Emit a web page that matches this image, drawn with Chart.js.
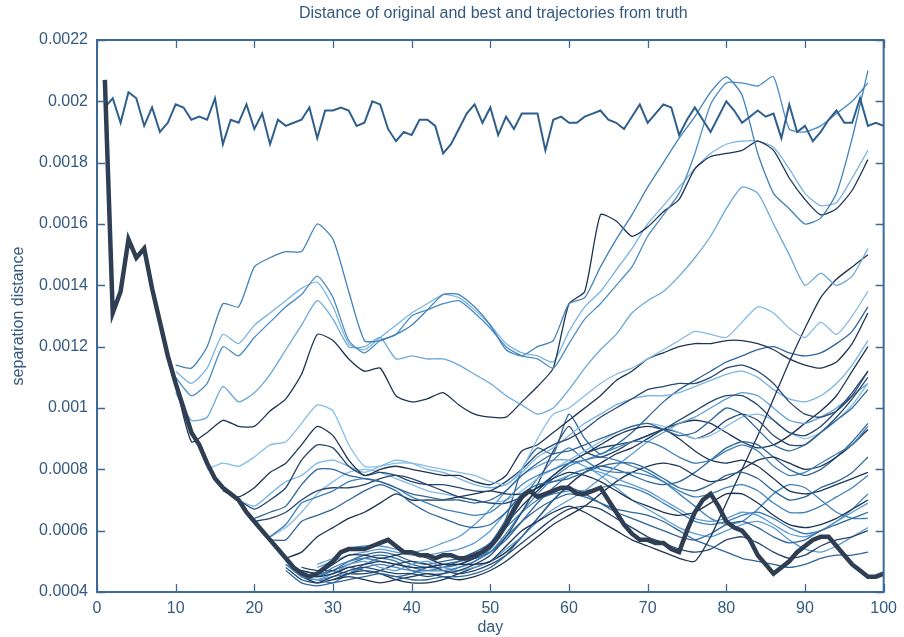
<!DOCTYPE html>
<html>
<head>
<meta charset="utf-8">
<script src="https://cdn.jsdelivr.net/npm/chart.js@4.4.1/dist/chart.umd.min.js"></script>
<style>
  html, body { margin: 0; padding: 0; background: #fff; }
</style>
</head>
<body>
<canvas id="myChart" width="904" height="637"></canvas>
<script>
// tick values
const xTicks = [0, 10, 20, 30, 40, 50, 60, 70, 80, 90, 100];
const yTicks = [0.0004, 0.0006, 0.0008, 0.001, 0.0012, 0.0014, 0.0016, 0.0018, 0.002, 0.0022];

// original trajectory, one value per day (day 1..100)
const originalDist = [.00198,.00201,.00193,.00203,.00201,.00192,.00198,.00190,.00193,.00199,
  .00198,.00194,.00195,.00194,.00201,.00186,.00194,.00193,.00199,.00191,
  .00196,.00186,.00194,.00192,.00193,.00194,.00198,.00188,.00197,.00197,
  .00198,.00197,.00192,.00193,.00200,.00199,.00191,.00187,.00190,.00189,
  .00194,.00194,.00192,.00183,.00186,.00191,.00196,.00199,.00193,.00198,
  .00189,.00195,.00191,.00196,.00196,.00196,.00184,.00194,.00195,.00193,
  .00193,.00195,.00196,.00197,.00194,.00193,.00191,.00195,.00199,.00193,
  .00196,.00199,.00198,.00189,.00194,.00198,.00194,.00190,.00195,.00200,
  .00197,.00193,.00195,.00197,.00195,.00196,.00188,.00199,.00190,.00192,
  .00187,.00190,.00194,.00197,.00193,.00193,.00201,.00192,.00193,.00192];

// best trajectory, one value per day (day 1..100)
const bestDist = [.00207,.00131,.00138,.00155,.00149,.00152,.00139,.00128,.00117,.00108,
  .00100,.00092,.00088,.00082,.00077,.00074,.00072,.00070,.00066,.00063,
  .00060,.00057,.00054,.00051,.00048,.00046,.00045,.00046,.00048,.00050,
  .00053,.00054,.00054,.00054,.00055,.00056,.00057,.00055,.00053,.00053,
  .00052,.00052,.00051,.00052,.00052,.00051,.00051,.00052,.00053,.00055,
  .00058,.00062,.00067,.00071,.00073,.00071,.00072,.00073,.00074,.00074,
  .00072,.00072,.00073,.00074,.00070,.00066,.00062,.00059,.00057,.00057,
  .00056,.00056,.00054,.00053,.00060,.00066,.00070,.00072,.00068,.00063,
  .00061,.00060,.00057,.00052,.00049,.00046,.00048,.00050,.00053,.00055,
  .00057,.00058,.00058,.00055,.00052,.00049,.00047,.00045,.00045,.00046];

// ensemble trajectories, every 2 days, each list ends on day 98
const trajDays = [10,12,14,16,18,20,22,24,26,28,30,32,34,36,38,40,42,44,46,48,50,52,54,56,58,60,62,64,66,68,70,72,74,76,78,80,82,84,86,88,90,92,94,96,98];

const trajU1 = [.00114,.00113,.00120,.00134,.00133,.00146,.00149,.00151,.00151,.00160,.00155,.00138,.00122,.00122,.00124,.00127,.00132,.00137,.00137,.00133,.00127,.00119,.00117,.00120,.00122,.00134,.00136,.00146,.00155,.00163,.00172,.00180,.00188,.00195,.00203,.00208,.00202,.00183,.00170,.00165,.00160,.00162,.00170,.00188,.00210];
const trajU2 = [.00110,.00104,.00108,.00120,.00117,.00123,.00128,.00133,.00137,.00143,.00136,.00122,.00118,.00122,.00124,.00130,.00132,.00134,.00135,.00131,.00126,.00120,.00117,.00116,.00113,.00121,.00129,.00134,.00140,.00146,.00156,.00163,.00170,.00183,.00199,.00206,.00206,.00205,.00208,.00191,.00190,.00192,.00196,.00200,.00206];
const trajU3 = [.00105,.00096,.00097,.00107,.00102,.00105,.00111,.00119,.00127,.00135,.00129,.00120,.00120,.00123,.00116,.00117,.00116,.00116,.00114,.00111,.00108,.00104,.00101,.00098,.00100,.00106,.00113,.00119,.00124,.00131,.00135,.00138,.00143,.00149,.00156,.00165,.00172,.00170,.00160,.00150,.00140,.00144,.00140,.00143,.00152];
const trajU4 = [.00108,.00089,.00092,.00096,.00094,.00094,.00099,.00103,.00111,.00124,.00122,.00116,.00112,.00113,.00104,.00102,.00103,.00105,.00101,.00098,.00097,.00097,.00102,.00107,.00113,.00134,.00138,.00163,.00161,.00156,.00159,.00164,.00168,.00178,.00182,.00183,.00184,.00187,.00184,.00175,.00168,.00163,.00165,.00171,.00181];
const trajU5 = [.00112,.00108,.00113,.00124,.00121,.00127,.00131,.00135,.00139,.00141,.00133,.00121,.00119,.00123,.00127,.00131,.00134,.00137,.00136,.00132,.00127,.00121,.00118,.00117,.00115,.00125,.00133,.00138,.00145,.00152,.00160,.00166,.00172,.00178,.00183,.00186,.00187,.00187,.00185,.00178,.00170,.00166,.00167,.00175,.00184];

const trajL1 = [.00080,.00082,.00081,.00084,.00088,.00089,.00095,.00101,.00099,.00088,.00081,.00081,.00082,.00082,.00081,.00080,.00079,.00078,.00076,.00075,.00080,.00090,.00098,.00100,.00104,.00108,.00111,.00113,.00116,.00119,.00122,.00125,.00124,.00123,.00128,.00133,.00131,.00126,.00123,.00128,.00124,.00130,.00138];
const trajL2 = [.00073,.00071,.00074,.00079,.00082,.00088,.00094,.00091,.00083,.00078,.00080,.00081,.00080,.00079,.00078,.00078,.00076,.00075,.00078,.00086,.00088,.00092,.00096,.00100,.00104,.00109,.00112,.00116,.00118,.00120,.00121,.00121,.00122,.00122,.00121,.00119,.00116,.00114,.00113,.00115,.00121,.00131];
const trajL3 = [.00070,.00067,.00070,.00074,.00083,.00088,.00087,.00081,.00078,.00079,.00078,.00076,.00075,.00075,.00074,.00073,.00073,.00076,.00080,.00085,.00088,.00090,.00093,.00097,.00100,.00103,.00106,.00107,.00108,.00108,.00110,.00113,.00114,.00112,.00108,.00102,.00098,.00097,.00099,.00104,.00112];
const trajL4 = [.00064,.00066,.00068,.00075,.00080,.00080,.00078,.00077,.00076,.00074,.00072,.00071,.00070,.00070,.00069,.00070,.00073,.00078,.00082,.00085,.00086,.00088,.00090,.00092,.00094,.00095,.00093,.00091,.00092,.00096,.00100,.00098,.00093,.00088,.00086,.00088,.00092,.00096,.00100,.00106];
const trajL5 = [.00058,.00062,.00069,.00071,.00073,.00076,.00077,.00076,.00074,.00071,.00069,.00067,.00066,.00065,.00066,.00070,.00075,.00078,.00080,.00082,.00083,.00085,.00087,.00089,.00089,.00087,.00084,.00082,.00083,.00086,.00088,.00086,.00081,.00078,.00079,.00082,.00085,.00088,.00094];
const trajL6 = [.00057,.00057,.00063,.00065,.00067,.00070,.00073,.00075,.00073,.00069,.00066,.00064,.00062,.00061,.00062,.00066,.00072,.00075,.00076,.00077,.00079,.00081,.00082,.00082,.00080,.00077,.00074,.00073,.00075,.00078,.00079,.00077,.00073,.00070,.00071,.00074,.00076,.00079,.00084];
const trajL7 = [.00051,.00053,.00058,.00061,.00064,.00066,.00069,.00072,.00070,.00070,.00070,.00071,.00072,.00073,.00072,.00072,.00074,.00077,.00079,.00078,.00076,.00073,.00070,.00068,.00066,.00065,.00066,.00069,.00072,.00072,.00069,.00065,.00062,.00061,.00062,.00064,.00067,.00070];
const trajL8 = [.00046,.00045,.00046,.00048,.00049,.00050,.00049,.00048,.00048,.00049,.00049,.00049,.00050,.00055,.00060,.00063,.00066,.00068,.00066,.00063,.00060,.00057,.00055,.00053,.00051,.00050,.00058,.00069,.00080,.00091,.00103,.00115,.00126,.00136,.00142,.00146,.00150];
const trajL9 = [.00070,.00068,.00072,.00076,.00078,.00082,.00083,.00081,.00079,.00081,.00083,.00082,.00080,.00079,.00077,.00075,.00074,.00075,.00079,.00084,.00087,.00091,.00095,.00098,.00101,.00103,.00104,.00104,.00105,.00107,.00109,.00111,.00112,.00110,.00106,.00103,.00102,.00104,.00108,.00114,.00122];
const trajL10 = [.00063,.00064,.00066,.00070,.00073,.00074,.00074,.00075,.00077,.00078,.00077,.00075,.00073,.00071,.00070,.00069,.00069,.00071,.00074,.00078,.00082,.00085,.00087,.00088,.00089,.00091,.00093,.00096,.00099,.00102,.00104,.00104,.00101,.00096,.00092,.00091,.00094,.00099,.00105,.00112];
const trajL11 = [.00058,.00061,.00066,.00072,.00076,.00079,.00080,.00079,.00077,.00075,.00073,.00072,.00071,.00070,.00069,.00070,.00073,.00077,.00080,.00083,.00086,.00089,.00092,.00094,.00095,.00094,.00092,.00090,.00091,.00094,.00097,.00098,.00096,.00092,.00090,.00092,.00096,.00101,.00108];

const trajB1 = [.00048,.00044,.00043,.00045,.00047,.00048,.00047,.00046,.00046,.00045,.00046,.00047,.00049,.00052,.00058,.00066,.00075,.00086,.00094,.00086,.00084,.00086,.00089,.00091,.00093,.00092,.00090,.00092,.00096,.00098,.00096,.00091,.00088,.00088,.00092,.00097,.00103,.00110];
const trajB2 = [.00049,.00046,.00045,.00048,.00050,.00051,.00050,.00049,.00048,.00047,.00047,.00048,.00050,.00054,.00061,.00070,.00077,.00083,.00087,.00083,.00080,.00079,.00079,.00078,.00076,.00073,.00071,.00072,.00074,.00075,.00073,.00069,.00066,.00066,.00068,.00071,.00074,.00078];
const trajB3 = [.00047,.00043,.00042,.00043,.00044,.00045,.00046,.00045,.00044,.00044,.00045,.00045,.00046,.00048,.00052,.00058,.00064,.00070,.00074,.00072,.00069,.00066,.00064,.00062,.00060,.00058,.00057,.00059,.00062,.00063,.00061,.00058,.00056,.00057,.00060,.00062,.00064,.00066];
const trajB4 = [.00047,.00046,.00049,.00052,.00052,.00051,.00052,.00053,.00051,.00049,.00049,.00051,.00055,.00062,.00068,.00073,.00078,.00082,.00085,.00088,.00091,.00093,.00094,.00093,.00090,.00086,.00083,.00082,.00083,.00081,.00077,.00073,.00072,.00073,.00075,.00077,.00079];
const trajB5 = [.00045,.00044,.00046,.00049,.00050,.00048,.00047,.00049,.00050,.00048,.00047,.00048,.00050,.00054,.00058,.00063,.00067,.00070,.00073,.00077,.00081,.00085,.00089,.00092,.00095,.00097,.00100,.00103,.00105,.00104,.00100,.00096,.00095,.00097,.00100,.00104,.00108];
const trajB6 = [.00048,.00047,.00047,.00046,.00046,.00047,.00049,.00050,.00049,.00047,.00046,.00047,.00049,.00052,.00056,.00060,.00064,.00067,.00068,.00067,.00064,.00061,.00058,.00056,.00054,.00053,.00054,.00057,.00058,.00056,.00053,.00051,.00052,.00055,.00057,.00058,.00060];
const trajB7 = [.00046,.00045,.00047,.00050,.00052,.00053,.00052,.00050,.00049,.00050,.00051,.00053,.00056,.00064,.00080,.00087,.00085,.00098,.00090,.00085,.00088,.00092,.00097,.00102,.00106,.00109,.00112,.00115,.00117,.00119,.00120,.00118,.00117,.00118,.00121,.00125,.00133];
const trajB8 = [.00048,.00050,.00052,.00053,.00054,.00053,.00052,.00052,.00053,.00054,.00056,.00060,.00066,.00071,.00074,.00076,.00078,.00080,.00079,.00077,.00075,.00073,.00070,.00067,.00064,.00063,.00064,.00066,.00065,.00062,.00059,.00058,.00060,.00063,.00066,.00069];
const trajB9 = [.00044,.00045,.00044,.00043,.00044,.00045,.00046,.00045,.00044,.00045,.00047,.00050,.00054,.00058,.00062,.00065,.00068,.00072,.00076,.00079,.00081,.00082,.00081,.00078,.00076,.00077,.00080,.00083,.00084,.00082,.00080,.00081,.00084,.00088,.00093];
const trajB10 = [.00044,.00043,.00046,.00049,.00051,.00050,.00047,.00046,.00046,.00048,.00050,.00053,.00059,.00066,.00072,.00077,.00081,.00083,.00084,.00083,.00081,.00079,.00076,.00072,.00068,.00064,.00062,.00063,.00067,.00072,.00075,.00074,.00070,.00066,.00064,.00064];
const trajB11 = [.00046,.00048,.00047,.00046,.00045,.00046,.00048,.00049,.00050,.00051,.00053,.00058,.00063,.00067,.00070,.00072,.00071,.00069,.00067,.00066,.00065,.00063,.00060,.00057,.00055,.00053,.00051,.00050,.00049,.00048,.00049,.00051,.00052,.00052,.00053];
const trajB12 = [.00050,.00047,.00046,.00047,.00049,.00051,.00052,.00051,.00049,.00048,.00048,.00049,.00051,.00053,.00057,.00063,.00069,.00074,.00078,.00080,.00081,.00080,.00078,.00076,.00075,.00076,.00079,.00083,.00087,.00089,.00088,.00084,.00080,.00078,.00080,.00084,.00089,.00095];
const trajB13 = [.00045,.00043,.00044,.00046,.00047,.00046,.00044,.00043,.00043,.00044,.00046,.00048,.00050,.00053,.00058,.00064,.00070,.00075,.00079,.00082,.00085,.00087,.00090,.00093,.00095,.00096,.00095,.00092,.00089,.00087,.00088,.00091,.00095,.00099,.00104,.00112,.00120];
const trajB14 = [.00049,.00051,.00054,.00055,.00055,.00054,.00053,.00054,.00056,.00058,.00062,.00067,.00073,.00078,.00081,.00083,.00083,.00081,.00078,.00074,.00070,.00067,.00064,.00061,.00059,.00058,.00060,.00062,.00063,.00061,.00057,.00054,.00053,.00055,.00058,.00061];
const trajB15 = [.00049,.00045,.00044,.00045,.00046,.00048,.00049,.00048,.00047,.00047,.00048,.00050,.00052,.00056,.00061,.00066,.00070,.00072,.00073,.00073,.00074,.00075,.00074,.00072,.00069,.00066,.00063,.00062,.00063,.00065,.00066,.00064,.00061,.00059,.00060,.00063,.00067,.00072];

const textColor = '#34597f';
const axisColor = '#3d6a94';

const trajList = [
  [trajU1, '#3f80b8'], [trajU2, '#4a8cc4'], [trajU3, '#6aa8da'], [trajU4, '#1d3454'], [trajU5, '#7ab4e2'],
  [trajL1, '#86bce6'], [trajL2, '#1d3454'], [trajL3, '#27476e'], [trajL4, '#2f669a'], [trajL5, '#3f80b8'],
  [trajL6, '#2f669a'], [trajL7, '#1d3454'], [trajL8, '#1d3454'], [trajL9, '#7ab4e2'], [trajL10, '#27476e'],
  [trajL11, '#86bce6'],
  [trajB1, '#27476e'], [trajB2, '#3f80b8'], [trajB3, '#2f669a'], [trajB4, '#1d3454'], [trajB5, '#5d9dd2'],
  [trajB6, '#27476e'], [trajB7, '#2f669a'], [trajB8, '#5d9dd2'], [trajB9, '#1d3454'], [trajB10, '#3f80b8'],
  [trajB11, '#2f669a'], [trajB12, '#2f669a'], [trajB13, '#1d3454'], [trajB14, '#5d9dd2'], [trajB15, '#3f80b8']
];

function trajPoints(vals) {
  // every list ends on the last grid day
  const off = trajDays.length - vals.length;
  return vals.map((v, i) => ({ x: trajDays[i + off], y: v }));
}
function dailyPoints(vals) {
  return vals.map((v, i) => ({ x: i + 1, y: v }));
}

var datasets = [];
datasets.push({ data: dailyPoints(bestDist), borderColor: '#2f3e52', borderWidth: 4.5, order: 0, tension: 0 });
datasets.push({ data: dailyPoints(originalDist), borderColor: '#2f5f8c', borderWidth: 2, order: 1, tension: 0 });
for (let i = 0; i < trajList.length; i++) {
  datasets.push({
    data: trajPoints(trajList[i][0]),
    borderColor: trajList[i][1],
    borderWidth: 1.3,
    order: 2,
    tension: 0.2
  });
}

// frame with inward ticks, plus title centred on the plot
const framePlugin = {
  id: 'framePlugin',
  afterDraw(chart) {
    const ctx = chart.ctx;
    const a = chart.chartArea;
    const sx = chart.scales.x, sy = chart.scales.y;
    ctx.save();
    ctx.strokeStyle = axisColor;
    ctx.lineWidth = 2;
    ctx.strokeRect(a.left, a.top, a.right - a.left, a.bottom - a.top);
    ctx.lineWidth = 1.3;
    ctx.beginPath();
    xTicks.forEach(v => {
      const px = Math.round(sx.getPixelForValue(v)) + 0.5;
      ctx.moveTo(px, a.bottom); ctx.lineTo(px, a.bottom - 8);
      ctx.moveTo(px, a.top); ctx.lineTo(px, a.top + 8);
    });
    yTicks.forEach(v => {
      const py = Math.round(sy.getPixelForValue(v)) + 0.5;
      ctx.moveTo(a.left, py); ctx.lineTo(a.left + 8, py);
      ctx.moveTo(a.right, py); ctx.lineTo(a.right - 8, py);
    });
    ctx.stroke();
    ctx.fillStyle = textColor;
    ctx.font = '16px "Liberation Sans", Arial, sans-serif';
    ctx.textAlign = 'center';
    ctx.textBaseline = 'middle';
    ctx.fillText('Distance of original and best and trajectories from truth', (a.left + a.right) / 2 + 3, 14);
    ctx.restore();
  }
};

var ctx = document.getElementById('myChart').getContext('2d');
var myChart = new Chart(ctx, {
  type: 'line',
  data: { datasets: datasets },
  options: {
    responsive: false,
    animation: false,
    layout: { padding: { top: 40, right: 19, left: 0, bottom: 0 } },
    elements: { point: { radius: 0 } },
    plugins: { legend: { display: false }, tooltip: { enabled: false }, title: { display: false } },
    scales: {
      x: {
        type: 'linear', min: 0, max: 100,
        afterBuildTicks: s => { s.ticks = xTicks.map(v => ({ value: v })); },
        afterFit: s => { s.height = 45; },
        grid: { display: false, drawTicks: false },
        border: { display: false },
        ticks: { color: textColor, font: { size: 16, family: '"Liberation Sans", Arial, sans-serif' }, padding: 7, maxRotation: 0, autoSkip: false },
        title: { display: true, text: 'day', color: textColor, font: { size: 16, family: '"Liberation Sans", Arial, sans-serif' }, padding: { top: 0, bottom: 0 } }
      },
      y: {
        type: 'linear', min: 0.0004, max: 0.0022,
        afterBuildTicks: s => { s.ticks = yTicks.map(v => ({ value: v })); },
        afterFit: s => { s.width = 97; },
        grid: { display: false, drawTicks: false },
        border: { display: false },
        ticks: {
          color: textColor, font: { size: 16, family: '"Liberation Sans", Arial, sans-serif' }, padding: 9, autoSkip: false,
          callback: v => Number(v.toFixed(4)).toString()
        },
        title: { display: true, text: 'separation distance', color: textColor, font: { size: 16, family: '"Liberation Sans", Arial, sans-serif' }, padding: { top: 9, bottom: 0 } }
      }
    }
  },
  plugins: [framePlugin]
});
</script>
</body>
</html>
